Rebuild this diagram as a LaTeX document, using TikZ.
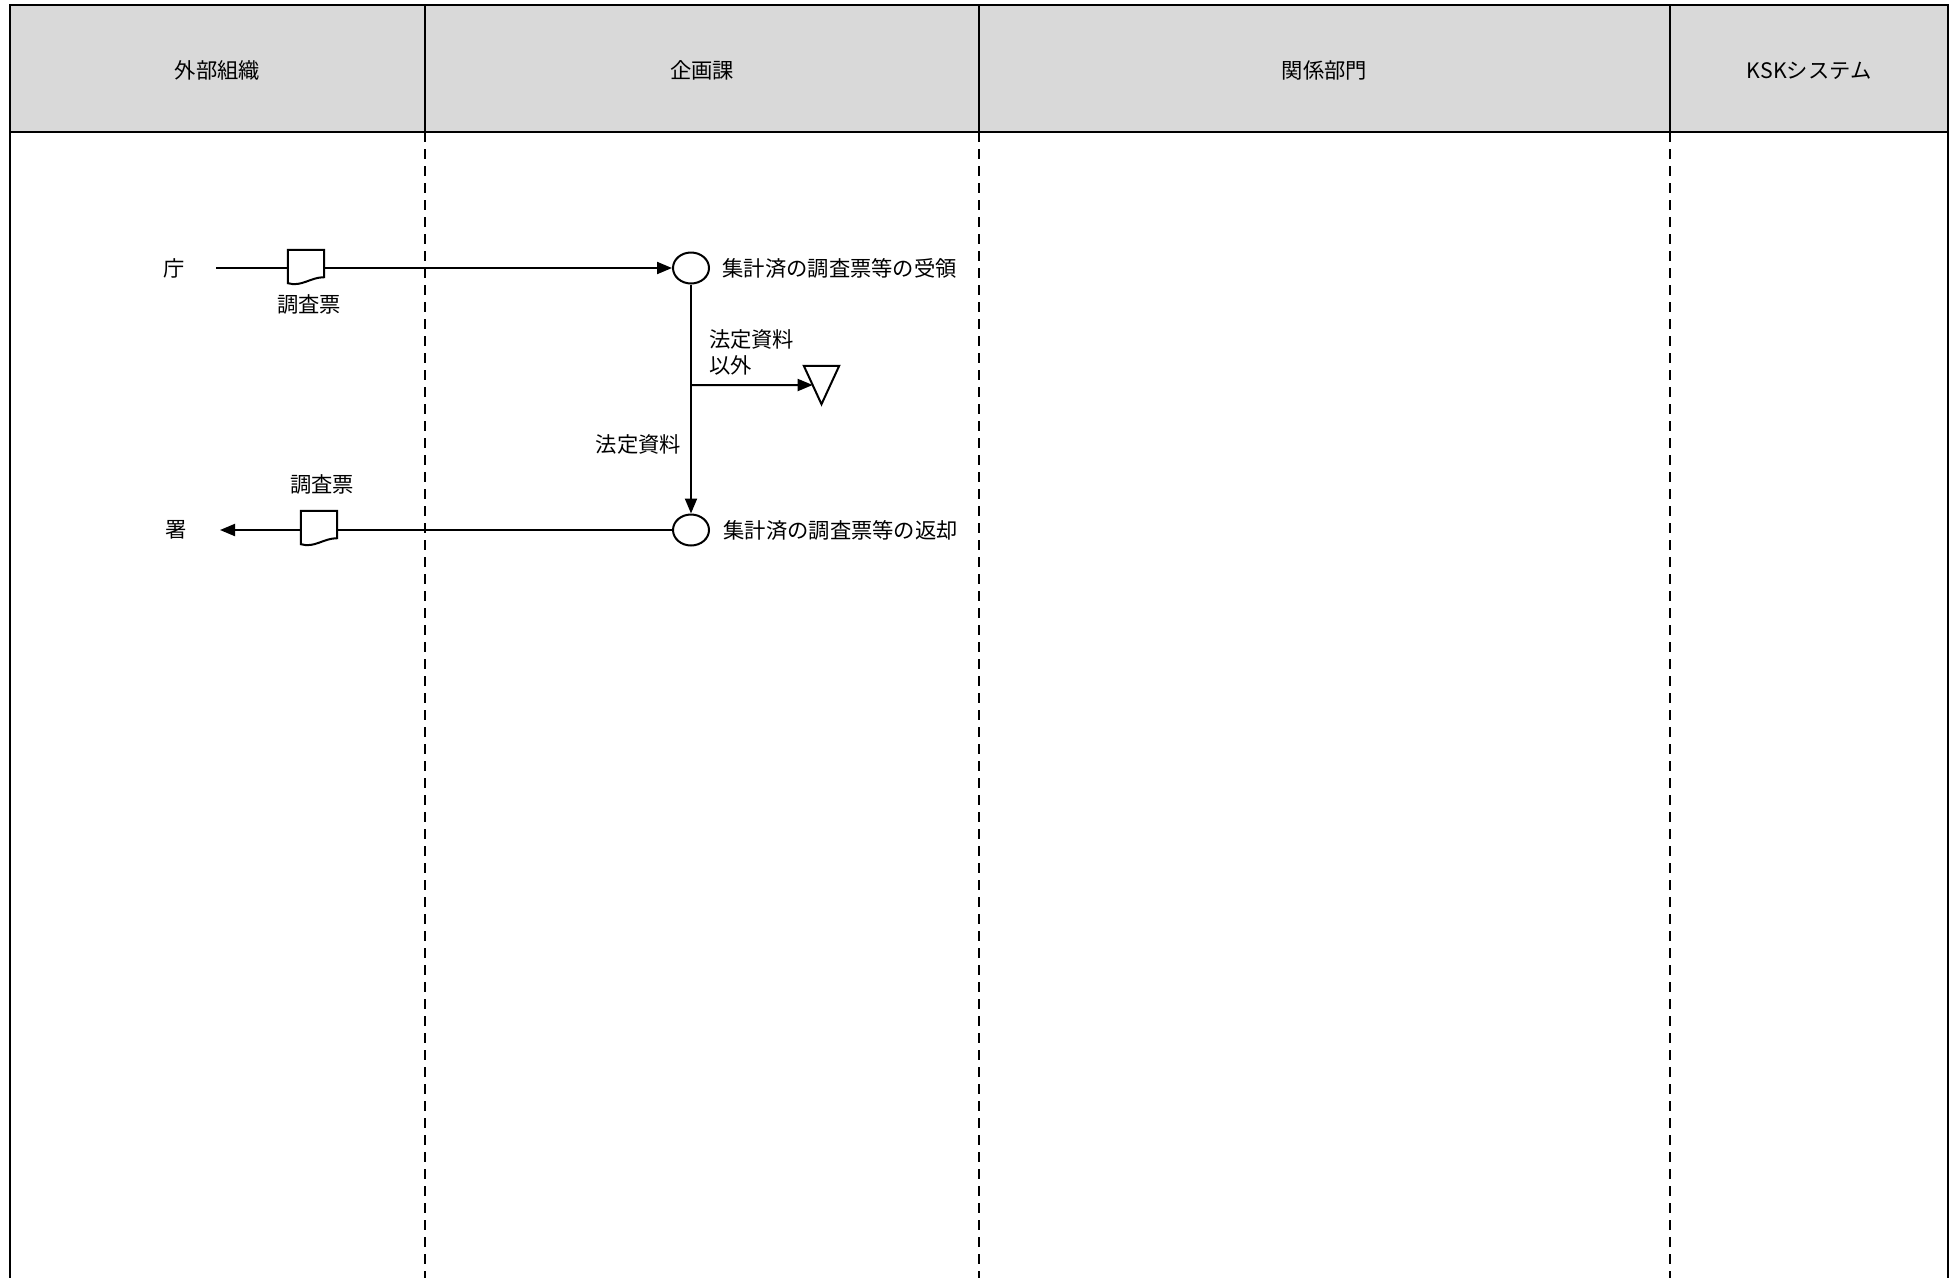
\documentclass[tikz,border=0pt]{standalone}
\usepackage{fontspec}
\setmainfont{Noto Sans CJK JP}
\usepackage{tikz}
\usetikzlibrary{arrows.meta}
\usetikzlibrary{shapes.geometric}
\usetikzlibrary{calc}
\definecolor{headgray}{HTML}{D9D9D9}

\begin{document}
\begin{tikzpicture}[
	x=1pt, y=-1pt,
	font=\fontsize{21.3}{26}\selectfont,
	head/.style={draw, line width=2pt, fill=headgray, anchor=north west, inner sep=0pt, outer sep=0pt, minimum height=127pt, text height=23.5pt, text depth=3pt},
	lane/.style={line width=1.5pt, dash pattern=on 10pt off 7pt},
	border/.style={line width=2pt},
	flow/.style={line width=2pt},
	arr/.style={flow, -{Triangle[length=15pt, width=12pt]}},
	proc/.style={draw, line width=2pt, ellipse, minimum width=36pt, minimum height=31pt, inner sep=0pt},
	doc/.style={minimum width=36pt, minimum height=33pt, inner sep=0pt}
	]

	\useasboundingbox (0,0) rectangle (1959,1278);

	% header
	\node[head, minimum width=415pt] (outer) at (10,5) {外部組織};
	\node[head, minimum width=554pt] (plan) at (outer.north east) {企画課};
	\node[head, minimum width=691pt] (dept) at (plan.north east) {関係部門};
	\node[head, minimum width=278pt] (ksk) at (dept.north east) {KSKシステム};

	% lanes
	\draw[border] (outer.south west) -- (outer.south west |- 0,1278);
	\draw[lane] (outer.south east) -- (outer.south east |- 0,1278);
	\draw[lane] (plan.south east) -- (plan.south east |- 0,1278);
	\draw[lane] (dept.south east) -- (dept.south east |- 0,1278);
	\draw[border] (ksk.south east) -- (ksk.south east |- 0,1278);

	% flow
	\node (cho) at (174,268) {庁};
	\node (sho) at (176,530) {署};
	\coordinate (chostart) at (216,268);
	\coordinate (shoend) at (220,530);
	\node[proc] (recv) at (691,268) {};
	\node[proc] (ret) at (691,530) {};
	\node[anchor=west] (recvtext) at (719,268) {集計済の調査票等の受領};
	\node[anchor=west] (rettext) at (720,530) {集計済の調査票等の返却};
	\node[doc] (doc1) at (306,266.5) {};
	\node[doc] (doc2) at (319,527.5) {};
	\node[minimum width=35pt, minimum height=38pt, inner sep=0pt] (trash) at (821.5,385) {};
	\coordinate (split) at (recv |- trash);

	\draw[arr] (chostart) -- (recv);
	\draw[arr] (ret) -- (shoend);
	\draw[arr] (recv) -- (ret);
	\draw[arr] (split) -- ($(trash.north west)!0.5!(trash.south)$);

	\draw[flow, fill=white] (trash.north west) -- (trash.north east) -- (trash.south) -- cycle;
	\foreach \d in {doc1,doc2}
		\draw[flow, fill=white] (\d.south west) -- (\d.north west) -- (\d.north east) -- ([yshift=6pt]\d.south east)
			.. controls ([xshift=-14pt,yshift=6pt]\d.south east) and ([xshift=14pt,yshift=-4pt]\d.south west) .. (\d.south west) -- cycle;

	% labels
	\node (doc1text) at (309,304) {調査票};
	\node (doc2text) at (322,484) {調査票};
	\node[anchor=north west, align=left] (othertext) at (705.5,326) {法定資料\\以外};
	\node[anchor=east] (legaltext) at (684.5,444) {法定資料};
\end{tikzpicture}
\end{document}
